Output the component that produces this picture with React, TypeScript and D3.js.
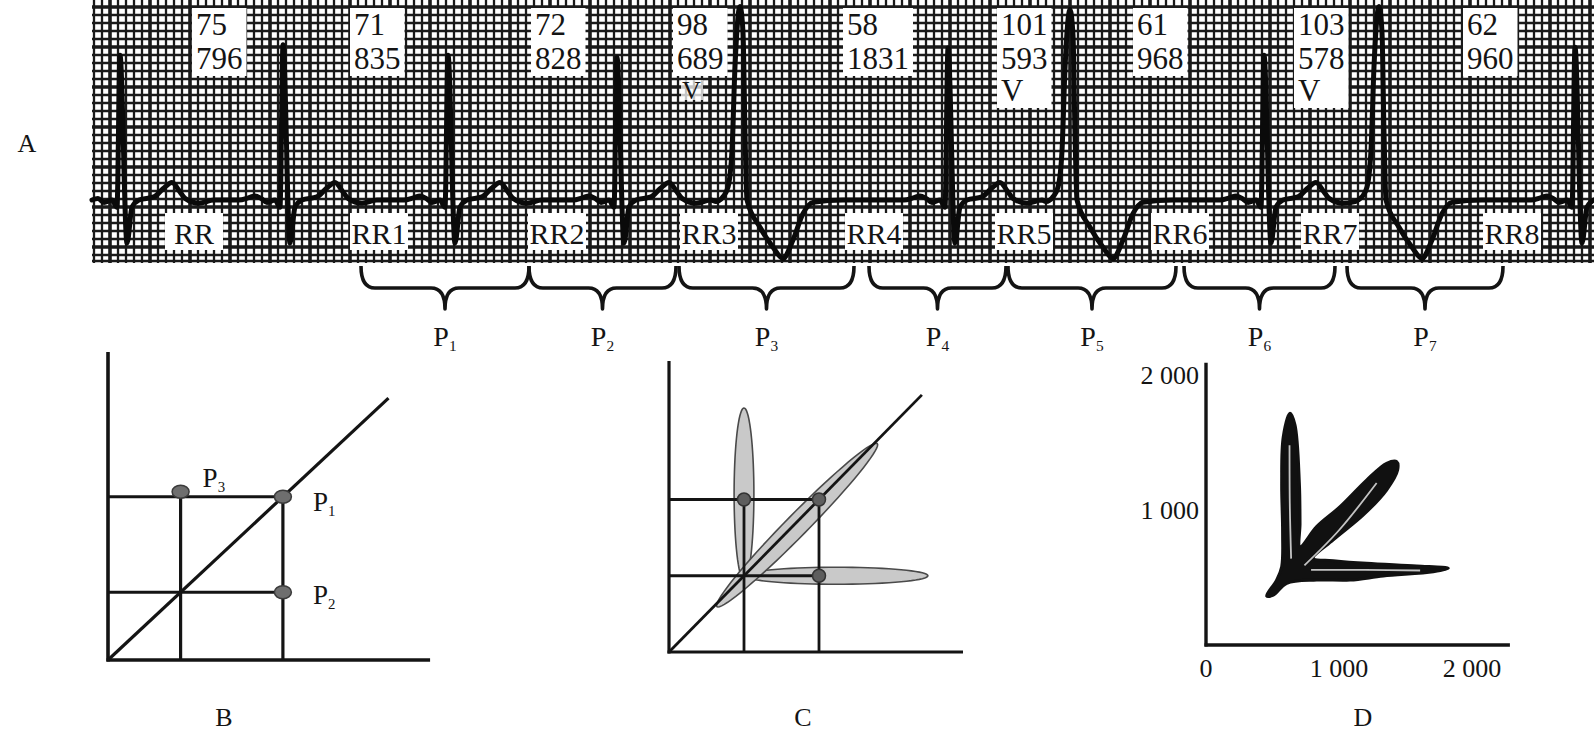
import * as d3 from "d3";
import React from "react";

// ---------- panel A : ECG strip ----------
// R (or V) peak times in ms along the strip
const beatTimes = [130, 945, 1770, 2615, 3230, 4270, 4880, 5850, 6425, 7405];
const beatTypes = ["N", "N", "N", "N", "V", "N", "V", "N", "V", "N"];
const beatAmps = [1.81, 1.94, 1.81, 1.78, 2.42, 1.9, 2.38, 1.81, 2.42, 1.91];

// morphology: [ms from peak, mV]
const normalWave = [
  [-220, 0], [-170, 0.03], [-140, 0.05], [-110, 0.02], [-80, -0.03], [-40, 0],
  [-15, -0.09], [0, 1.8], [35, -0.54], [60, -0.09], [95, 0], [170, 0.04],
  [215, 0.14], [260, 0.22], [300, 0.1], [325, 0.02], [395, -0.04], [470, 0],
];
const pvcWave = [
  [-120, -0.02], [-85, 0.04], [-60, 0.16], [-40, 0.62], [-25, 1.66], [0, 2.41],
  [15, 2.09], [25, 0.84], [35, 0], [100, -0.34], [165, -0.59], [215, -0.73],
  [265, -0.5], [315, -0.17], [365, -0.03], [515, 0],
];

const heartRates = ["75", "71", "72", "98", "58", "101", "61", "103", "62"];
const rrValues = ["796", "835", "828", "689", "1831", "593", "968", "578", "960"];
const vMarks = ["", "", "", "V", "", "V", "", "V", ""];
const vBoxed = [false, false, false, false, false, true, false, true, false];
const readoutTimes = [490, 1280, 2185, 2895, 3745, 4515, 5195, 6000, 6845];

const rrNames = ["RR", "RR1", "RR2", "RR3", "RR4", "RR5", "RR6", "RR7", "RR8"];
const rrLabelTimes = [355, 1280, 2170, 2930, 3755, 4505, 5285, 6035, 6945];

const pairNames = ["1", "2", "3", "4", "5", "6", "7"];
const pairStarts = [1335, 2175, 2925, 3875, 4570, 5450, 6265];
const pairEnds = [2175, 2910, 3800, 4560, 5410, 6205, 7045];

// ---------- panel B : schematic Poincaré ----------
const bShort = 22;
const bLong = 53;
const bPoints = [
  { name: "1", x: bLong, y: bLong },
  { name: "2", x: bLong, y: bShort },
  { name: "3", x: bShort, y: bLong },
];

// ---------- panel C : schematic with scatter ellipses ----------
const cShort = 25;
const cLong = 50;
const cPoints = [
  { x: cShort, y: cLong },
  { x: cLong, y: cLong },
  { x: cLong, y: cShort },
];
// centre, half-length along major, half-width, angle of major axis (deg)
const cEllipses = [
  { cx: 25, cy: 51.8, a: 28.2, b: 3.3, angle: 90 },
  { cx: 55.8, cy: 25, a: 30.5, b: 2.8, angle: 0 },
  { cx: 42.7, cy: 41.6, a: 37.8, b: 3.6, angle: 45 },
];

// ---------- panel D : real Lorenz plot (RRn, RRn+1 in ms) ----------
const dTicks = [1000, 2000];
const dCloud = [
  [456, 363], [531, 481], [569, 580], [576, 827], [569, 1198], [581, 1543],
  [632, 1716], [669, 1630], [702, 1198], [707, 901], [707, 728], [832, 877],
  [1008, 1025], [1208, 1222], [1358, 1346], [1434, 1358], [1441, 1296],
  [1358, 1148], [1183, 963], [957, 778], [807, 642], [957, 625], [1208, 605],
  [1584, 585], [1822, 568], [1709, 543], [1333, 511], [1083, 481], [832, 481],
  [607, 457], [506, 370],
];
const dCores = [
  [[628, 1480], [630, 1050], [640, 640]],
  [[740, 590], [1000, 850], [1283, 1200]],
  [[790, 556], [1200, 556], [1610, 552]],
];

const FONT = "'Liberation Serif', 'Times New Roman', serif";
const INK = "#141414";

const ecgX = d3.scaleLinear().domain([0, 7500]).range([94, 1594]);
const ecgY = d3.scaleLinear().domain([-1, 2.5]).range([280, 0]);

function ecgPoints(): [number, number][] {
  const pts: [number, number][] = [];
  beatTimes.forEach((t, i) => {
    const tpl = beatTypes[i] === "V" ? pvcWave : normalWave;
    const peak = d3.max(tpl, (d) => d[1]) as number;
    tpl.forEach(([dt, v]) => {
      const val = v > 0.5 ? (v * beatAmps[i]) / peak : v;
      pts.push([t + dt, val]);
    });
  });
  const kept = pts.filter((p) => p[0] > -10).sort((a, b) => a[0] - b[0]);
  return [[-10, 0], ...kept];
}

function brace(x1: number, x2: number): string {
  const top = 266, mid = 288, tip = 309, r = 14;
  const xm = (x1 + x2) / 2;
  return `M${x1},${top} Q${x1},${mid} ${x1 + r},${mid} L${xm - r},${mid} Q${xm},${mid} ${xm},${tip} ` +
    `Q${xm},${mid} ${xm + r},${mid} L${x2 - r},${mid} Q${x2},${mid} ${x2},${top}`;
}

const Sub: React.FC<{ x: number; y: number; n: string; size?: number; anchor?: string }> = ({ x, y, n, size = 28, anchor = "start" }) => (
  <text x={x} y={y} fontFamily={FONT} fontSize={size} fill={INK} textAnchor={anchor as any}>
    P<tspan fontSize={size * 0.55} dy={size * 0.18}>{n}</tspan>
  </text>
);

function PanelA() {
  const gridV = d3.range(94, 1595, 8);
  const gridH = d3.range(7, 263, 8);
  const line = d3.line<[number, number]>()
    .x((d) => ecgX(d[0]))
    .y((d) => ecgY(d[1]))
    .curve(d3.curveMonotoneX);
  return (
    <g>
      <text x={27} y={152} fontFamily={FONT} fontSize={26} fill={INK} textAnchor="middle">A</text>
      <clipPath id="gridClip"><rect x={92} y={0} width={1502} height={263} /></clipPath>
      <g clipPath="url(#gridClip)">
        <rect x={92} y={0} width={1502} height={263} fill="#fff" />
        {gridV.map((x, i) => (
          <line key={"v" + i} x1={x} x2={x} y1={0} y2={263} stroke="#1a1a1a"
            strokeWidth={i % 5 === 2 ? 3.6 : 2.3} />
        ))}
        {gridH.map((y, i) => (
          <line key={"h" + i} x1={92} x2={1594} y1={y} y2={y} stroke="#1a1a1a"
            strokeWidth={i % 5 === 0 ? 3.6 : 2.3} />
        ))}
        <line x1={92} x2={1594} y1={261} y2={261} stroke="#1a1a1a" strokeWidth={2.5} />
      </g>
      {/* readout boxes */}
      {heartRates.map((hr, i) => {
        const x0 = ecgX(readoutTimes[i]);
        const chars = Math.max(hr.length, rrValues[i].length);
        const w = chars * 15.5 + 8;
        const lines = vBoxed[i] ? 3 : 2;
        return (
          <g key={"ro" + i}>
            <rect x={x0} y={8} width={w} height={lines === 3 ? 100 : 68} fill="#fff" />
            <text x={x0 + 4} y={35} fontFamily={FONT} fontSize={31} fill={INK}>{hr}</text>
            <text x={x0 + 4} y={69} fontFamily={FONT} fontSize={31} fill={INK}>{rrValues[i]}</text>
            {vMarks[i] && !vBoxed[i] && (
              <rect x={x0 + 8} y={80} width={22} height={20} fill="#fff" fillOpacity={0.75} />
            )}
            {vMarks[i] && (
              <text x={x0 + (vBoxed[i] ? 4 : 9)} y={vBoxed[i] ? 101 : 99} fontFamily={FONT}
                fontSize={vBoxed[i] ? 31 : 26} fill={INK}>{vMarks[i]}</text>
            )}
          </g>
        );
      })}
      {/* RR boxes */}
      {rrNames.map((nm, i) => {
        const x0 = ecgX(rrLabelTimes[i]);
        return (
          <g key={"rr" + i}>
            <rect x={x0} y={213} width={58} height={37} fill="#fff" />
            <text x={x0 + 29} y={244} fontFamily={FONT} fontSize={30} fill={INK} textAnchor="middle">{nm}</text>
          </g>
        );
      })}
      <path d={line(ecgPoints()) || ""} fill="none" stroke="#0a0a0a" strokeWidth={5}
        strokeLinejoin="round" strokeLinecap="round" />
      {/* braces */}
      {pairNames.map((n, i) => {
        const x1 = ecgX(pairStarts[i]);
        const x2 = ecgX(pairEnds[i]);
        return (
          <g key={"br" + i}>
            <path d={brace(x1, x2)} fill="none" stroke={INK} strokeWidth={3.6} strokeLinejoin="round" />
            <Sub x={(x1 + x2) / 2} y={346} n={n} anchor="middle" />
          </g>
        );
      })}
    </g>
  );
}

function PanelB() {
  const x = d3.scaleLinear().domain([0, 100]).range([108, 438]);
  const y = d3.scaleLinear().domain([0, 100]).range([660, 352]);
  const sw = 3.2;
  const offs: Record<string, [number, number]> = { "1": [30, 14], "2": [30, 12], "3": [22, -10] };
  return (
    <g stroke={INK}>
      <line x1={x(0)} x2={x(0)} y1={y(100)} y2={y(0) + 1.5} strokeWidth={3.6} />
      <line x1={x(0) - 1.5} x2={x(97.6)} y1={y(0)} y2={y(0)} strokeWidth={3.6} />
      <line x1={x(0)} y1={y(0)} x2={x(85)} y2={y(85)} strokeWidth={sw} />
      <line x1={x(0)} x2={x(bLong)} y1={y(bLong)} y2={y(bLong)} strokeWidth={sw} />
      <line x1={x(0)} x2={x(bLong)} y1={y(bShort)} y2={y(bShort)} strokeWidth={sw} />
      <line x1={x(bShort)} x2={x(bShort)} y1={y(bLong)} y2={y(0)} strokeWidth={sw} />
      <line x1={x(bLong)} x2={x(bLong)} y1={y(bLong)} y2={y(0)} strokeWidth={sw} />
      {bPoints.map((p) => (
        <g key={p.name}>
          <ellipse cx={x(p.x)} cy={y(p.y) - (p.name === "3" ? 5 : 0)} rx={8.5} ry={6.5} fill="#6e6e6e" stroke="#3a3a3a" strokeWidth={1.5} />
          <g stroke="none">
            <Sub x={x(p.x) + offs[p.name][0]} y={y(p.y) + offs[p.name][1]} n={p.name} size={27} />
          </g>
        </g>
      ))}
      <text x={224} y={726} fontFamily={FONT} fontSize={26} fill={INK} stroke="none" textAnchor="middle">B</text>
    </g>
  );
}

function ellipsePath(e: { cx: number; cy: number; a: number; b: number; angle: number },
  x: d3.ScaleLinear<number, number>, y: d3.ScaleLinear<number, number>) {
  const th = (e.angle * Math.PI) / 180;
  const ux = Math.cos(th), uy = Math.sin(th);
  const pts = d3.range(0, 72).map((k) => {
    const f = (k / 72) * 2 * Math.PI;
    const px = e.cx + e.a * Math.cos(f) * ux - e.b * Math.sin(f) * uy;
    const py = e.cy + e.a * Math.cos(f) * uy + e.b * Math.sin(f) * ux;
    return [x(px), y(py)] as [number, number];
  });
  return d3.line().curve(d3.curveLinearClosed)(pts) || "";
}

function PanelC() {
  const x = d3.scaleLinear().domain([0, 100]).range([669, 969]);
  const y = d3.scaleLinear().domain([0, 100]).range([652, 347]);
  const sw = 2.8;
  return (
    <g stroke={INK}>
      <line x1={x(0)} x2={x(0)} y1={y(95.4)} y2={y(0) + 1.5} strokeWidth={3.2} />
      <line x1={x(0) - 1.5} x2={x(98)} y1={y(0)} y2={y(0)} strokeWidth={3.2} />
      {cEllipses.map((e, i) => (
        <path key={i} d={ellipsePath(e, x, y)} fill="#c9c9c9" stroke="#4a4a4a" strokeWidth={1.6} />
      ))}
      <line x1={x(0)} y1={y(0)} x2={x(84.3)} y2={y(84.3)} strokeWidth={sw} />
      <line x1={x(0)} x2={x(cLong)} y1={y(cLong)} y2={y(cLong)} strokeWidth={sw} />
      <line x1={x(0)} x2={x(cLong)} y1={y(cShort)} y2={y(cShort)} strokeWidth={sw} />
      <line x1={x(cShort)} x2={x(cShort)} y1={y(cLong)} y2={y(0)} strokeWidth={sw} />
      <line x1={x(cLong)} x2={x(cLong)} y1={y(cLong)} y2={y(0)} strokeWidth={sw} />
      {cPoints.map((p, i) => (
        <circle key={i} cx={x(p.x)} cy={y(p.y)} r={6.5} fill="#5e5e5e" stroke="#333" strokeWidth={1.5} />
      ))}
      <text x={803} y={726} fontFamily={FONT} fontSize={26} fill={INK} stroke="none" textAnchor="middle">C</text>
    </g>
  );
}

function PanelD() {
  const x = d3.scaleLinear().domain([0, 2000]).range([1206, 1472]);
  const y = d3.scaleLinear().domain([0, 2000]).range([645, 375]);
  const cloud = d3.line<number[]>()
    .x((d) => x(d[0]))
    .y((d) => y(d[1]))
    .curve(d3.curveCatmullRomClosed.alpha(0.5));
  const core = d3.line<number[]>()
    .x((d) => x(d[0]))
    .y((d) => y(d[1]))
    .curve(d3.curveCatmullRom);
  return (
    <g>
      <line x1={x(0)} x2={x(0)} y1={y(2090)} y2={y(0) + 1.5} stroke={INK} strokeWidth={3.4} />
      <line x1={x(0) - 1.5} x2={x(2285)} y1={y(0)} y2={y(0)} stroke={INK} strokeWidth={3.4} />
      <path d={cloud(dCloud) || ""} fill="#111" stroke="#111" strokeWidth={3} strokeLinejoin="round" />
      {dCores.map((c, i) => (
        <path key={i} d={core(c) || ""} fill="none" stroke="#fff" strokeOpacity={0.75} strokeWidth={1.8} />
      ))}
      <text x={x(0)} y={677} fontFamily={FONT} fontSize={26} fill={INK} textAnchor="middle">0</text>
      {dTicks.map((t) => (
        <text key={"x" + t} x={x(t)} y={677} fontFamily={FONT} fontSize={26} fill={INK} textAnchor="middle">
          {d3.format(",")(t).replace(",", " ")}
        </text>
      ))}
      {dTicks.map((t) => (
        <text key={"y" + t} x={x(0) - 7} y={y(t) + 9} fontFamily={FONT} fontSize={26} fill={INK} textAnchor="end">
          {d3.format(",")(t).replace(",", " ")}
        </text>
      ))}
      <text x={1363} y={726} fontFamily={FONT} fontSize={26} fill={INK} textAnchor="middle">D</text>
    </g>
  );
}

export default function App() {
  return (
    <svg width={1594} height={747} style={{ position: "absolute", left: 0, top: 0, background: "#fff" }}>
      <PanelA />
      <PanelB />
      <PanelC />
      <PanelD />
    </svg>
  );
}
